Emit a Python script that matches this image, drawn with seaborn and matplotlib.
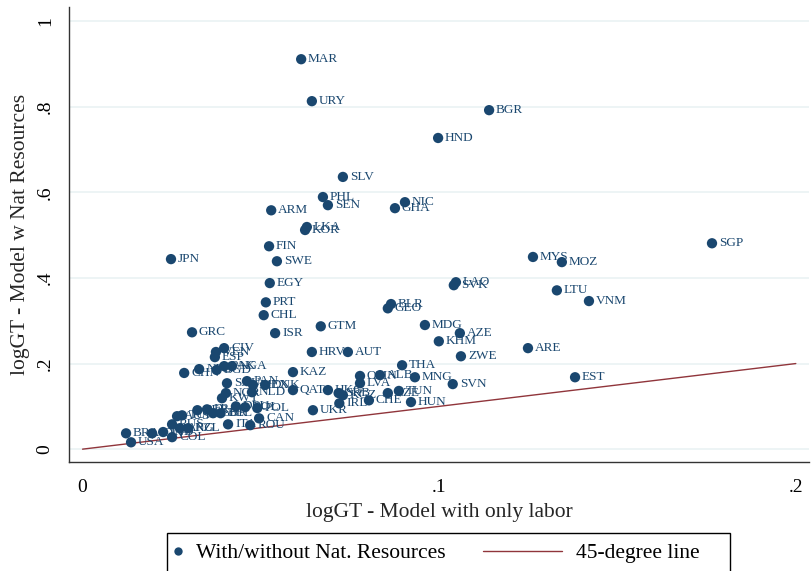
import matplotlib
matplotlib.use("Agg")
import matplotlib.pyplot as plt
from matplotlib.lines import Line2D
from matplotlib.patches import Rectangle
import seaborn as sns
import pandas as pd

codes = ["MAR", "URY", "BGR", "HND", "SLV", "PHL", "SEN", "NIC", "GHA", "ARM",
         "LKA", "KOR", "FIN", "JPN", "SWE", "EGY", "PRT", "CHL", "GRC", "ISR",
         "GTM", "HRV", "AUT", "MDG", "AZE", "KHM", "ZWE", "ARE", "EST", "SGP",
         "MYS", "MOZ", "LTU", "VNM", "LAO", "SVK", "BLR", "GEO", "THA", "MNG",
         "SVN", "ALB", "OMN", "LVA", "TUN", "CZE", "CHE", "HUN", "KAZ", "QAT",
         "UKR", "CIV", "VEN", "ESP", "CHN", "NPL", "BGD", "PAK", "NGA", "SAU",
         "PAN", "MEX", "DNK", "NOR", "NLD", "KWT", "DEU", "BOL", "POL", "CAN",
         "ROU", "ITA", "HKG", "SRB", "KGZ", "IRL", "BRA", "USA", "AUS", "TUR",
         "PER", "FRA", "GBR", "BEL", "IDN", "IND", "RUS", "ARG", "NZL", "COL"]
labor_only = [0.0613, 0.0643, 0.1140, 0.0997, 0.0730, 0.0674, 0.0688, 0.0904, 0.0876, 0.0529,
              0.0629, 0.0624, 0.0523, 0.0248, 0.0545, 0.0525, 0.0514, 0.0508, 0.0307, 0.0540,
              0.0668, 0.0643, 0.0744, 0.0960, 0.1058, 0.0999, 0.1061, 0.1249, 0.1381, 0.1765,
              0.1263, 0.1344, 0.1330, 0.1420, 0.1047, 0.1041, 0.0865, 0.0856, 0.0896, 0.0932,
              0.1038, 0.0834, 0.0778, 0.0778, 0.0887, 0.0856, 0.0803, 0.0921, 0.0590, 0.0590,
              0.0646, 0.0397, 0.0374, 0.0371, 0.0285, 0.0327, 0.0376, 0.0397, 0.0419, 0.0405,
              0.0461, 0.0478, 0.0512, 0.0402, 0.0475, 0.0391, 0.0430, 0.0456, 0.0490, 0.0495,
              0.0470, 0.0408, 0.0688, 0.0718, 0.0730, 0.0720, 0.0122, 0.0136, 0.0265, 0.0279,
              0.0322, 0.0349, 0.0366, 0.0387, 0.0195, 0.0226, 0.0251, 0.0273, 0.0296, 0.0251]
with_natres = [0.911, 0.813, 0.792, 0.727, 0.636, 0.589, 0.570, 0.577, 0.563, 0.558,
               0.519, 0.512, 0.474, 0.444, 0.439, 0.388, 0.343, 0.313, 0.273, 0.271,
               0.287, 0.227, 0.227, 0.290, 0.271, 0.252, 0.217, 0.236, 0.168, 0.481,
               0.449, 0.437, 0.371, 0.346, 0.390, 0.383, 0.339, 0.329, 0.196, 0.168,
               0.152, 0.173, 0.171, 0.154, 0.136, 0.131, 0.114, 0.110, 0.180, 0.138,
               0.091, 0.236, 0.227, 0.215, 0.178, 0.187, 0.185, 0.194, 0.194, 0.154,
               0.159, 0.150, 0.150, 0.131, 0.133, 0.119, 0.100, 0.098, 0.096, 0.072,
               0.056, 0.058, 0.138, 0.131, 0.126, 0.107, 0.037, 0.016, 0.077, 0.079,
               0.091, 0.093, 0.084, 0.084, 0.037, 0.040, 0.058, 0.049, 0.049, 0.028]
diag = [0.0, 0.2]

navy = "#1a476f"
maroon = "#90353b"
grid = "#eaf2f3"

sns.set_theme(style="white")
plt.rcParams["font.family"] = ["Liberation Serif", "DejaVu Serif"]

df = pd.DataFrame({"code": codes, "x": labor_only, "y": with_natres})
line_df = pd.DataFrame({"x": diag, "y": diag})

fig = plt.figure(figsize=(8.11, 5.71), dpi=100)
ax = fig.add_axes([69 / 811, 1 - 462 / 571, (809 - 69) / 811, (462 - 7) / 571])

for v in [0, 0.2, 0.4, 0.6, 0.8, 1.0]:
    ax.axhline(v, color=grid, lw=1.2, zorder=0)

sns.scatterplot(data=df, x="x", y="y", ax=ax, color=navy, s=55, edgecolor="none",
                legend=False, zorder=3)
sns.lineplot(data=line_df, x="x", y="y", ax=ax, color=maroon, lw=1.0,
             legend=False, zorder=2)

for c, xv, yv in zip(codes, labor_only, with_natres):
    ax.annotate(c, (xv, yv), xytext=(5, 0), textcoords="offset points",
                va="center", ha="left", fontsize=9.5, color=navy, zorder=4)

ax.set_xlim(-0.0038, 0.2037)
ax.set_ylim(-0.030, 1.033)
ax.set_xticks([0, 0.1, 0.2])
ax.set_xticklabels(["0", ".1", ".2"])
ax.set_yticks([0, 0.2, 0.4, 0.6, 0.8, 1.0])
ax.set_yticklabels(["0", ".2", ".4", ".6", ".8", "1"], rotation=90, va="center")
ax.tick_params(axis="both", direction="out", length=7, width=1, color="black",
               labelsize=14, labelcolor="black")
ax.tick_params(axis="x", pad=5)
ax.tick_params(axis="y", pad=4)
ax.set_xlabel("logGT - Model with only labor", fontsize=15.5, labelpad=5)
ax.set_ylabel("logGT - Model w Nat Resources", fontsize=15.5, labelpad=5)

for side in ["top", "right"]:
    ax.spines[side].set_visible(False)
for side in ["left", "bottom"]:
    ax.spines[side].set_color("#333333")
    ax.spines[side].set_linewidth(1.0)

# legend box along the bottom edge
W, H = 811, 571
def fx(px):
    return px / W
def fy(py):
    return 1 - py / H

fig.patches.append(Rectangle((fx(167), fy(576)), fx(730) - fx(167), fy(533) - fy(576),
                             transform=fig.transFigure, fill=False, edgecolor="black",
                             lw=1.0, clip_on=False))
fig.lines.append(Line2D([fx(178)], [fy(551)], transform=fig.transFigure, marker="o",
                        markersize=6, color=navy, markeredgewidth=0, linestyle="none"))
fig.text(fx(196), fy(551), "With/without Nat. Resources", fontsize=15.5,
         va="center_baseline", ha="left", color="black")
fig.lines.append(Line2D([fx(483), fx(562)], [fy(551), fy(551)], transform=fig.transFigure,
                        color=maroon, lw=1.0))
fig.text(fx(576), fy(551), "45-degree line", fontsize=15.5, va="center_baseline",
         ha="left", color="black")

fig.savefig("out.png", dpi=100)
